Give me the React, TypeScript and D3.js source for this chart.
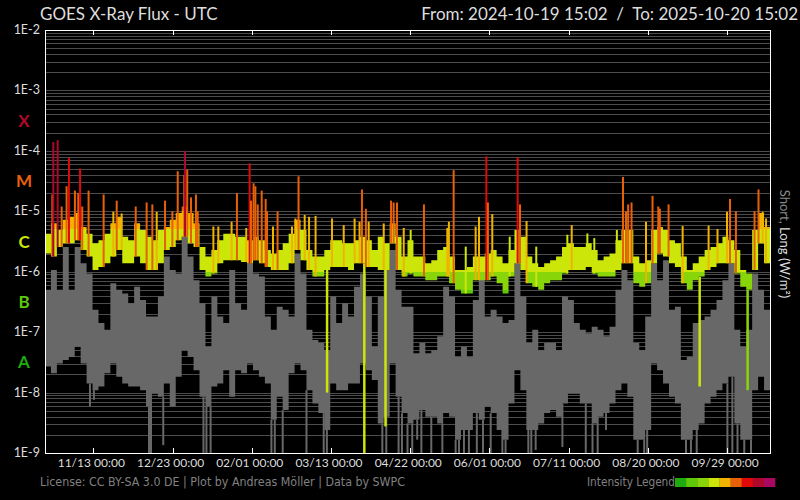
import * as d3 from 'd3';

// GOES X-ray flux, one year. Values are log10(W/m²), 3-day bins.
const START = new Date(Date.UTC(2024, 9, 19, 15, 2));
const END = new Date(Date.UTC(2025, 9, 20, 15, 2));
const BIN_DAYS = 3;

const tickDates = [
  '2024-11-13', '2024-12-23', '2025-02-01', '2025-03-13', '2025-04-22',
  '2025-06-01', '2025-07-11', '2025-08-20', '2025-09-29',
];
const decadeLabels = ['1E-2', '1E-3', '1E-4', '1E-5', '1E-6', '1E-7', '1E-8', '1E-9'];
const classLetters = ['X', 'M', 'C', 'B', 'A'];

// long channel (0.1-0.8 nm) background band
const longLow = [
  -5.70, -5.75, -5.59, -5.53, -5.53, -5.48, -5.64, -5.75, -5.97, -5.92,
  -5.86, -5.75, -5.64, -5.86, -5.86, -5.75, -5.86, -5.97, -5.97, -5.86,
  -5.64, -5.59, -5.48, -5.42, -5.53, -5.59, -5.97, -6.08, -6.03, -5.86,
  -5.81, -5.81, -5.81, -5.84, -5.86, -5.81, -5.86, -5.92, -5.97, -5.97,
  -5.97, -5.86, -5.64, -5.81, -5.97, -6.08, -6.08, -5.97, -5.92, -5.92,
  -5.92, -5.97, -5.86, -5.86, -5.92, -5.92, -5.97, -5.97, -5.53, -5.97,
  -6.08, -6.03, -6.08, -6.08, -6.14, -6.14, -6.08, -6.08, -6.19, -6.30,
  -6.36, -6.36, -6.14, -6.14, -6.14, -6.08, -6.19, -6.36, -6.08, -5.86,
  -5.97, -6.19, -6.25, -6.30, -6.19, -6.14, -6.14, -6.03, -5.97, -5.97,
  -5.97, -5.92, -6.03, -6.08, -6.08, -6.08, -5.97, -5.86, -5.86, -6.19,
  -6.25, -6.19, -5.86, -5.70, -5.75, -5.86, -5.92, -6.19, -6.30, -6.14,
  -6.08, -5.97, -5.92, -5.86, -5.86, -5.86, -6.03, -6.25, -6.30, -5.97,
  -5.53, -5.86,
];
const longHigh = [
  -5.37, -5.20, -5.31, -5.14, -5.09, -5.03, -5.26, -5.37, -5.53, -5.48,
  -5.37, -5.20, -5.09, -5.42, -5.48, -5.20, -5.31, -5.42, -5.48, -5.31,
  -5.26, -5.14, -5.03, -4.92, -5.03, -5.20, -5.59, -5.75, -5.64, -5.48,
  -5.37, -5.37, -5.42, -5.42, -5.48, -5.42, -5.48, -5.64, -5.70, -5.64,
  -5.53, -5.37, -5.14, -5.31, -5.64, -5.75, -5.75, -5.64, -5.48, -5.48,
  -5.53, -5.53, -5.48, -5.42, -5.48, -5.64, -5.42, -5.53, -5.20, -5.42,
  -5.75, -5.48, -5.75, -5.75, -5.86, -5.81, -5.64, -5.59, -5.75, -5.97,
  -5.97, -5.92, -5.75, -5.75, -5.70, -5.64, -5.75, -5.86, -5.64, -5.31,
  -5.42, -5.75, -5.86, -5.92, -5.86, -5.81, -5.75, -5.59, -5.53, -5.59,
  -5.59, -5.53, -5.64, -5.81, -5.75, -5.70, -5.48, -5.31, -5.31, -5.75,
  -5.86, -5.81, -5.31, -5.26, -5.31, -5.48, -5.53, -5.75, -5.97, -5.86,
  -5.75, -5.64, -5.59, -5.53, -5.42, -5.48, -5.64, -5.97, -6.03, -5.31,
  -5.03, -5.26,
];

// short channel (0.05-0.4 nm)
const shortLow = [
  -7.57, -7.68, -7.52, -7.46, -7.41, -7.24, -7.52, -7.85, -7.96, -7.90,
  -7.68, -7.52, -7.74, -7.85, -7.90, -7.90, -7.96, -8.23, -8.01, -8.07,
  -7.85, -8.23, -7.74, -7.30, -7.41, -7.63, -8.07, -8.23, -7.90, -7.85,
  -7.63, -8.07, -7.63, -7.68, -7.52, -7.63, -7.74, -7.85, -8.45, -8.07,
  -8.29, -7.68, -7.52, -7.63, -7.96, -8.18, -8.34, -8.62, -7.85, -7.96,
  -7.96, -7.85, -7.85, -7.52, -7.63, -7.79, -8.51, -8.40, -7.52, -8.07,
  -8.34, -8.51, -8.45, -8.29, -8.40, -8.40, -8.51, -8.34, -8.40, -8.78,
  -8.62, -8.62, -8.34, -8.45, -8.23, -8.34, -8.62, -8.78, -8.18, -7.63,
  -7.96, -8.62, -8.62, -8.51, -8.34, -8.29, -8.40, -8.18, -8.01, -8.01,
  -8.18, -8.18, -8.51, -8.40, -8.34, -8.18, -7.96, -7.85, -8.07, -8.78,
  -8.78, -8.62, -7.52, -7.63, -7.85, -8.07, -8.18, -8.78, -8.78, -8.62,
  -8.51, -8.18, -8.07, -7.96, -7.85, -7.74, -8.51, -8.78, -8.78, -7.96,
  -7.74, -7.96,
];
const shortHigh = [
  -6.30, -5.97, -6.30, -5.59, -6.30, -5.59, -5.86, -6.03, -6.63, -6.85,
  -6.96, -6.19, -6.30, -6.36, -6.52, -6.25, -6.47, -6.74, -6.74, -6.41,
  -5.75, -5.97, -6.03, -5.42, -5.75, -6.14, -6.52, -7.24, -6.41, -6.74,
  -6.85, -5.97, -6.52, -6.63, -5.86, -6.03, -6.08, -6.74, -6.96, -6.58,
  -6.63, -6.74, -5.70, -6.03, -6.96, -7.13, -7.18, -7.30, -6.41, -6.85,
  -6.52, -6.74, -6.25, -6.03, -6.41, -7.24, -6.41, -5.97, -5.64, -6.30,
  -6.58, -6.58, -7.35, -7.18, -7.35, -7.30, -7.07, -6.25, -6.41, -7.41,
  -7.24, -7.41, -6.47, -6.03, -6.74, -6.63, -6.74, -6.85, -6.80, -5.81,
  -6.41, -7.18, -6.96, -7.30, -7.18, -7.18, -7.30, -6.41, -6.47, -6.85,
  -6.96, -7.02, -6.91, -6.96, -7.07, -6.91, -6.30, -5.97, -6.14, -7.18,
  -7.30, -6.74, -5.86, -6.14, -5.81, -6.63, -6.58, -7.46, -7.41, -6.85,
  -6.80, -6.74, -6.63, -6.47, -6.14, -5.86, -6.96, -7.24, -6.96, -6.03,
  -6.30, -6.63,
];

// flares: [days after start, peak class]
const flares: [number, string][] = [
  [3.7, 'M1.9'], [4.2, 'X1.4'], [6.4, 'X1.5'], [8.4, 'M1.2'], [10.9, 'M2.6'],
  [12.1, 'M7.6'], [15.1, 'M2.2'], [16.8, 'M2.0'], [17.7, 'M5.1'], [18.8, 'M1.2'],
  [22.0, 'M2.2'], [29.6, 'M1.9'], [34.5, 'C9.8'], [36.2, 'M1.5'], [38.7, 'C9.2'],
  [45.8, 'M1.2'], [51.3, 'M1.4'], [54.2, 'M1.3'], [56.4, 'C9.8'], [60.6, 'M1.5'],
  [64.3, 'M1.0'], [67.0, 'M4.6'], [70.3, 'M4.0'], [70.7, 'X1.0'], [71.8, 'M4.9'],
  [73.7, 'M1.7'], [76.2, 'M1.9'], [77.1, 'M1.0'], [85.0, 'C5.6'], [87.5, 'C5.6'],
  [94.2, 'C6.7'], [96.9, 'M2.0'], [101.6, 'C5.3'], [103.3, 'M6.2'], [104.0, 'M1.5'],
  [105.3, 'M2.9'], [106.2, 'M2.6'], [107.4, 'M1.3'], [109.4, 'M2.2'], [111.4, 'M1.6'],
  [112.1, 'M1.0'], [115.1, 'C5.6'], [117.4, 'M1.0'], [124.7, 'C5.6'], [126.4, 'C7.6'],
  [128.0, 'M3.8'], [131.1, 'C8.7'], [133.3, 'C8.1'], [136.6, 'C8.4'], [144.9, 'C7.6'],
  [150.8, 'C5.9'], [156.3, 'C7.6'], [158.8, 'C6.7'], [160.0, 'M2.3'], [162.0, 'M1.1'],
  [163.4, 'C6.7'], [171.0, 'C6.3'], [174.7, 'M1.5'], [176.0, 'M1.4'], [177.7, 'M1.4'],
  [181.1, 'C5.3'], [184.6, 'C4.9'], [191.3, 'M1.3'], [203.1, 'C5.3'], [203.9, 'C6.7'],
  [206.3, 'M4.8'], [212.4, 'C2.6'], [217.4, 'C5.6'], [219.1, 'C8.1'], [222.8, 'M8.1'],
  [223.6, 'M1.4'], [225.8, 'C9.0'], [234.6, 'C3.8'], [238.6, 'M7.8'], [239.8, 'M1.3'],
  [243.1, 'C6.9'], [248.0, 'C2.6'], [263.7, 'C4.1'], [265.9, 'C5.9'], [273.8, 'C4.3'],
  [277.3, 'C3.6'], [288.7, 'C4.9'], [291.8, 'M3.7'], [293.3, 'M1.0'], [294.4, 'M1.3'],
  [296.1, 'M1.4'], [303.4, 'C6.7'], [306.7, 'M1.8'], [309.6, 'M1.2'], [310.4, 'M1.1'],
  [314.8, 'M1.3'], [321.9, 'C5.7'], [335.0, 'C5.8'], [339.5, 'C5.1'], [344.3, 'C9.8'],
  [345.8, 'M1.6'], [348.8, 'M1.0'], [358.2, 'M1.0'], [360.2, 'M2.3'], [362.3, 'C9.8'],
  [364.0, 'C7.6'],
];

// short channel dropouts: [days after start, log10 minimum]
const shortDips: [number, number][] = [
  [22.7, -8.23], [24.7, -8.12], [52.5, -9], [53.5, -9], [59.7, -8.87], [80.0, -9],
  [81.5, -9], [83.6, -9], [114.3, -9], [116.0, -9], [120.0, -9], [132.0, -9],
  [140.7, -9], [142.3, -9], [170.3, -9], [172.3, -9], [178.5, -9], [180.2, -9],
  [183.0, -9], [185.4, -9], [187.9, -8.78], [190.0, -9], [195.0, -9], [200.6, -9],
  [207.3, -9], [209.0, -9], [211.5, -9], [214.0, -9], [218.0, -9], [221.1, -9],
  [225.0, -9], [230.9, -9], [232.5, -9], [244.0, -9], [245.5, -9], [247.7, -8.95],
  [261.2, -8.9], [273.0, -9], [276.4, -9], [279.0, -9], [283.2, -8.62], [299.2, -9],
  [302.5, -9], [304.0, -9], [323.6, -9], [326.1, -9], [329.0, -9], [344.5, -9],
  [347.0, -9], [349.6, -9], [353.0, -9], [356.4, -9],
];

// long channel dropouts: [days after start, log10 minimum]
const longDrops: [number, number][] = [
  [142.4, -8.0], [161.2, -9], [171.9, -8.56], [330.5, -7.9], [354.7, -7.96],
];

const intensityColors = [
  '#1faa0f', '#5ec80a', '#88d60a', '#cce60a', '#f0b400',
  '#e86008', '#e00808', '#b0082a', '#a80860',
];
const intensityBreaks = [1e-7, 5e-7, 1e-6, 5e-6, 1e-5, 5e-5, 1e-4, 5e-4];
const classColors = ['#b0082a', '#e86008', '#cce60a', '#5ec80a', '#1faa0f'];

const classBase: Record<string, number> = { A: 1e-8, B: 1e-7, C: 1e-6, M: 1e-5, X: 1e-4 };
const parseClass = (c: string) => classBase[c[0]] * parseFloat(c.slice(1));

const W = 800;
const H = 500;
const L = 45;
const R = 770;
const T = 30;
const B = 453;
const DAY = 864e5;

export default function App() {
  const x = d3.scaleUtc().domain([START, END]).range([L, R]);
  const y = d3.scaleLog().domain([1e-9, 1e-2]).range([B, T]).clamp(true);
  const level = d3.scaleThreshold<number, string>().domain(intensityBreaks).range(intensityColors);
  const atDay = (d: number) => x(new Date(START.getTime() + d * DAY));
  const binOf = (d: number) => Math.min(longLow.length - 1, Math.floor(d / BIN_DAYS));
  const totalDays = (END.getTime() - START.getTime()) / DAY;

  const bins = longLow.map((_, i) => ({ day: i * BIN_DAYS + BIN_DAYS / 2, i }));
  const pts = [{ day: 0, i: 0 }, ...bins, { day: totalDays, i: bins.length - 1 }];

  const shortArea = d3
    .area<{ day: number; i: number }>()
    .curve(d3.curveStep)
    .x((p) => atDay(p.day))
    .y0((p) => y(10 ** shortLow[p.i]))
    .y1((p) => y(10 ** shortHigh[p.i]));
  const longArea = d3
    .area<{ day: number; i: number }>()
    .curve(d3.curveStep)
    .x((p) => atDay(p.day))
    .y0((p) => y(10 ** longLow[p.i]))
    .y1((p) => y(10 ** longHigh[p.i]));

  const gridValues = d3
    .range(-9, -2)
    .flatMap((n) => d3.range(1, 10).map((k) => k * 10 ** n))
    .concat([1e-2]);

  // vertical gradient so the band takes the colour of its flux level
  const bounds = [1e-9, ...intensityBreaks, 1e-2];
  const stops: { off: number; color: string }[] = [];
  for (let j = intensityColors.length - 1; j >= 0; j--) {
    const top = (y(bounds[j + 1]) - T) / (B - T);
    const bot = (y(bounds[j]) - T) / (B - T);
    stops.push({ off: top, color: intensityColors[j] });
    stops.push({ off: bot, color: intensityColors[j] });
  }

  const ticks = tickDates.map((s) => new Date(s + 'T00:00:00Z'));
  const fmt = d3.utcFormat('%m/%d %H:%M');
  const gray = '#686868';

  return (
    <div style={{ width: W, height: H, background: '#000' }}>
      <style>{'body{margin:0;background:#000}'}</style>
      <svg width={W} height={H} viewBox={`0 0 ${W} ${H}`} style={{ display: 'block' }}>
        <defs>
          <linearGradient id="lvl" gradientUnits="userSpaceOnUse" x1={0} y1={T} x2={0} y2={B}>
            {stops.map((s, k) => (
              <stop key={k} offset={s.off} stopColor={s.color} />
            ))}
          </linearGradient>
          <clipPath id="plot">
            <rect x={L} y={T} width={R - L} height={B - T} />
          </clipPath>
        </defs>
        <rect width={W} height={H} fill="#000" />

        {gridValues.map((v) => (
          <line key={v} x1={L} x2={R} y1={Math.round(y(v)) + 0.5} y2={Math.round(y(v)) + 0.5} stroke="#4c4c4c" strokeWidth={1} />
        ))}

        <g clipPath="url(#plot)">
          <path d={shortArea(pts) ?? ''} fill={gray} />
          {shortDips.map(([d, v], k) => (
            <line key={k} x1={atDay(d)} x2={atDay(d)} y1={y(10 ** shortLow[binOf(d)])} y2={y(10 ** v)} stroke={gray} strokeWidth={2} />
          ))}
          {longDrops.map(([d, v], k) => (
            <line
              key={k}
              x1={atDay(d)}
              x2={atDay(d)}
              y1={y(10 ** longLow[binOf(d)])}
              y2={y(10 ** v)}
              stroke={level(10 ** longHigh[binOf(d)])}
              strokeWidth={2.5}
            />
          ))}
          <path d={longArea(pts) ?? ''} fill="url(#lvl)" />
          {flares.map(([d, c], k) => {
            const peak = parseClass(c);
            return (
              <line
                key={k}
                x1={atDay(d)}
                x2={atDay(d)}
                y1={y(10 ** longLow[binOf(d)])}
                y2={y(peak)}
                stroke={level(peak)}
                strokeWidth={2}
              />
            );
          })}
        </g>

        <rect x={L + 0.5} y={T + 0.5} width={R - L} height={B - T} fill="none" stroke="#fff" strokeWidth={1} />
        {ticks.map((t) => (
          <g key={t.getTime()}>
            <line x1={Math.round(x(t)) + 0.5} x2={Math.round(x(t)) + 0.5} y1={T} y2={T + 5} stroke="#fff" />
            <line x1={Math.round(x(t)) + 0.5} x2={Math.round(x(t)) + 0.5} y1={B - 5} y2={B} stroke="#fff" />
            <text x={x(t) - 2} y={467} fill="#ddd" fontSize={12} fontFamily="Lato" textAnchor="middle">
              {fmt(t)}
            </text>
          </g>
        ))}

        {decadeLabels.map((s, k) => (
          <text key={s} x={40} y={y(10 ** (-2 - k)) + 4} fill="#ddd" fontSize={12.5} fontFamily="Lato" textAnchor="end">
            {s}
          </text>
        ))}
        {classLetters.map((s, k) => (
          <text
            key={s}
            x={24}
            y={y(10 ** (-3.5 - k)) + 6}
            fill={classColors[k]}
            fontSize={17}
            fontWeight={700}
            fontFamily="Lato"
            textAnchor="middle"
          >
            {s}
          </text>
        ))}

        <text x={40} y={20} fill="#ddd" fontSize={17} fontFamily="Lato">
          GOES X-Ray Flux - UTC
        </text>
        <text x={798} y={20} fill="#ddd" fontSize={17} fontFamily="Lato" textAnchor="end" style={{ whiteSpace: 'pre' }}>
          {'From: 2024-10-19 15:02  /  To: 2025-10-20 15:02'}
        </text>

        <text transform="translate(780,244) rotate(90)" fontSize={13} fontFamily="Lato" textAnchor="middle">
          <tspan fill="#8a8a8a">Short, </tspan>
          <tspan fill="#dddddd">Long (W/m²)</tspan>
        </text>

        <text x={40} y={486} fill="#808080" fontSize={12} fontFamily="DejaVu Sans" textLength={365} lengthAdjust="spacingAndGlyphs">
          License: CC BY-SA 3.0 DE | Plot by Andreas Möller | Data by SWPC
        </text>
        <text x={587} y={486} fill="#808080" fontSize={12} fontFamily="DejaVu Sans" textLength={88} lengthAdjust="spacingAndGlyphs">
          Intensity Legend
        </text>
        {intensityColors.map((c, k) => (
          <rect key={c} x={675 + k * (100 / 9)} y={478} width={100 / 9 + 0.3} height={9} fill={c} />
        ))}
      </svg>
    </div>
  );
}
